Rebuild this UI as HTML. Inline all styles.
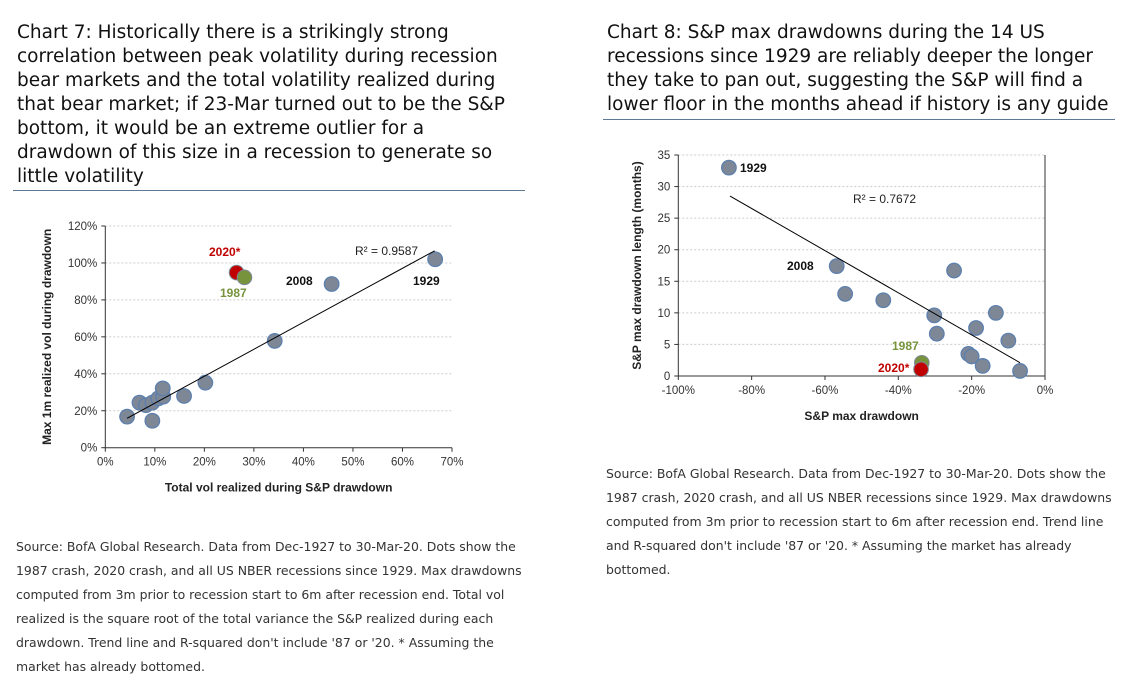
<!DOCTYPE html>
<html><head><meta charset="utf-8">
<style>
body{margin:0;width:1134px;height:686px;background:#fff;font-family:"Liberation Sans",sans-serif;position:relative;overflow:hidden}
.t{position:absolute;font-family:"DejaVu Sans",sans-serif;font-size:18.5px;line-height:24px;color:#111;white-space:nowrap}
.rule{position:absolute;height:1px;background:#5d7a95}
.s{position:absolute;font-family:"DejaVu Sans",sans-serif;font-size:12.45px;line-height:24px;color:#333;white-space:nowrap}
svg{position:absolute;left:0;top:0}
</style></head><body>
<div class="t" style="left:17px;top:21px">Chart 7: Historically there is a strikingly strong<br>correlation between peak volatility during recession<br>bear markets and the total volatility realized during<br>that bear market; if 23-Mar turned out to be the S&amp;P<br>bottom, it would be an extreme outlier for a<br>drawdown of this size in a recession to generate so<br>little volatility</div>
<div class="rule" style="left:13px;top:190px;width:512px"></div>
<div class="t" style="left:607px;top:21px">Chart 8: S&amp;P max drawdowns during the 14 US<br>recessions since 1929 are reliably deeper the longer<br>they take to pan out, suggesting the S&amp;P will find a<br>lower floor in the months ahead if history is any guide</div>
<div class="rule" style="left:603px;top:119px;width:512px"></div>
<div class="s" style="left:16px;top:535px">Source: BofA Global Research. Data from Dec-1927 to 30-Mar-20. Dots show the<br>1987 crash, 2020 crash, and all US NBER recessions since 1929. Max drawdowns<br>computed from 3m prior to recession start to 6m after recession end. Total vol<br>realized is the square root of the total variance the S&amp;P realized during each<br>drawdown. Trend line and R-squared don't include '87 or '20. * Assuming the<br>market has already bottomed.</div>
<div class="s" style="left:606px;top:462px">Source: BofA Global Research. Data from Dec-1927 to 30-Mar-20. Dots show the<br>1987 crash, 2020 crash, and all US NBER recessions since 1929. Max drawdowns<br>computed from 3m prior to recession start to 6m after recession end. Trend line<br>and R-squared don't include '87 or '20. * Assuming the market has already<br>bottomed.</div>
<svg id="svg" width="1134" height="686"></svg>
<script>
// Chart 7 data
const c7x=[4.4,6.9,8.2,9.5,9.5,10.7,11.7,11.6,15.9,20.2,34.2,45.7,66.6];
const c7y=[16.8,24.4,23,14.6,24.4,26.7,27.6,32.1,28,35.2,57.8,88.6,102];
const c7hx=[26.5,28.1];const c7hy=[94.8,92.2];const c7hl=["2020*","1987"];
const c7trend=[[4.4,15.9],[66.5,106.6]];
const c7xt=[0,10,20,30,40,50,60,70];const c7yt=[0,20,40,60,80,100,120];
// Chart 8 data
const c8x=[-86.2,-56.8,-54.5,-44.1,-24.8,-30.2,-29.5,-13.4,-18.8,-10,-20.9,-20,-17,-6.8];
const c8y=[33,17.4,13,12,16.7,9.6,6.7,10,7.6,5.6,3.5,3.1,1.6,0.8];
const c8hx=[-33.6,-33.8];const c8hy=[2.1,1.06];const c8hl=["1987","2020*"];
const c8trend=[[-85.9,28.5],[-6.8,2.1]];
const c8xt=[-100,-80,-60,-40,-20,0];const c8yt=[0,5,10,15,20,25,30,35];

const NS="http://www.w3.org/2000/svg",svg=document.getElementById('svg');
function el(tag,a,txt){const e=document.createElementNS(NS,tag);for(const k in a)e.setAttribute(k,a[k]);if(txt!=null)e.textContent=txt;svg.appendChild(e);return e;}
function chart(o){
 const X=v=>o.x0+(v-o.xmin)/(o.xmax-o.xmin)*(o.x1-o.x0);
 const Y=v=>o.y0-(v-o.ymin)/(o.ymax-o.ymin)*(o.y0-o.y1);
 o.yt.forEach(v=>{if(v!==o.ymin){const g=el('line',{x1:o.x0,x2:o.x1,y1:Y(v),y2:Y(v),stroke:'#ccc','stroke-dasharray':'2,2'});
 }
 const t=el('text',{x:o.x0-8,y:Y(v)+4,'text-anchor':'end','font-size':11.5,fill:'#333'},v+o.yu);
 
 el('line',{x1:o.x0-4,x2:o.x0,y1:Y(v),y2:Y(v),stroke:'#333'});});
 o.xt.forEach(v=>{const t=el('text',{x:X(v),y:o.y0+18,'text-anchor':'middle','font-size':11.5,fill:'#333'},v+'%');
 
 el('line',{x1:X(v),x2:X(v),y1:o.y0,y2:o.y0+4,stroke:'#333'});});
 const ax=el('path',{d:`M${o.x0},${o.y1}V${o.y0}H${o.x1}`,fill:'none',stroke:'#333'});
 
 if(o.rightAxis){el('line',{x1:o.x1,x2:o.x1,y1:o.y1,y2:o.y0,stroke:'#333'});}
 const xt=el('text',{x:(o.x0+o.x1)/2,y:o.y0+44,'text-anchor':'middle','font-size':12,'font-weight':'bold',fill:'#222'},o.xlab);
 
 const cy=(o.y0+o.y1)/2,yt=el('text',{x:o.ylx,y:cy,'text-anchor':'middle','font-size':12,'font-weight':'bold',fill:'#222',transform:`rotate(-90 ${o.ylx} ${cy})`},o.ylab);
 
 o.xs.forEach((v,i)=>{const c=el('circle',{cx:X(v),cy:Y(o.ys[i]),r:7.3,fill:'#7d8796',stroke:'#5a7fb0','stroke-width':1.2});
 });
 const tl=el('line',{x1:X(o.tr[0][0]),y1:Y(o.tr[0][1]),x2:X(o.tr[1][0]),y2:Y(o.tr[1][1]),stroke:'#000','stroke-width':1});
 
 const cols={"2020*":'#c00000',"1987":'#77933c'};
 o.hx.forEach((v,i)=>{const c=el('circle',{cx:X(v),cy:Y(o.hy[i]),r:7.3,fill:cols[o.hl[i]],stroke:'#7d8796','stroke-width':1});
 });
 o.labels.forEach(l=>{const t=el('text',{x:l[0],y:l[1],'font-size':12,'font-weight':'bold',fill:l[3]||'#111'},l[2]);
 });
 const r=el('text',{x:o.r2[0],y:o.r2[1],'font-size':12,fill:'#222'},o.r2[2]);
 
}
chart({x0:105.3,x1:452,y0:447.7,y1:226,xmin:0,xmax:70,ymin:0,ymax:120,xs:c7x,ys:c7y,hx:c7hx,hy:c7hy,hl:c7hl,tr:c7trend,xt:c7xt,yt:c7yt,yu:'%',
 xlab:'Total vol realized during S&P drawdown',ylab:'Max 1m realized vol during drawdown',ylx:51,
 labels:[[209,256,'2020*','#c00000'],[220,297,'1987','#77933c'],[286,285,'2008'],[413,285,'1929']],r2:[355,255,'R² = 0.9587']});
chart({x0:678.3,x1:1045,y0:376,y1:155,xmin:-100,xmax:0,ymin:0,ymax:35,xs:c8x,ys:c8y,hx:c8hx,hy:c8hy,hl:c8hl,tr:c8trend,xt:c8xt,yt:c8yt,yu:'',rightAxis:true,
 xlab:'S&P max drawdown',ylab:'S&P max drawdown length (months)',ylx:641,
 labels:[[740,172,'1929'],[787,270,'2008'],[892,350,'1987','#77933c'],[878,372,'2020*','#c00000']],r2:[853,203,'R² = 0.7672']});
</script>
</body></html>
